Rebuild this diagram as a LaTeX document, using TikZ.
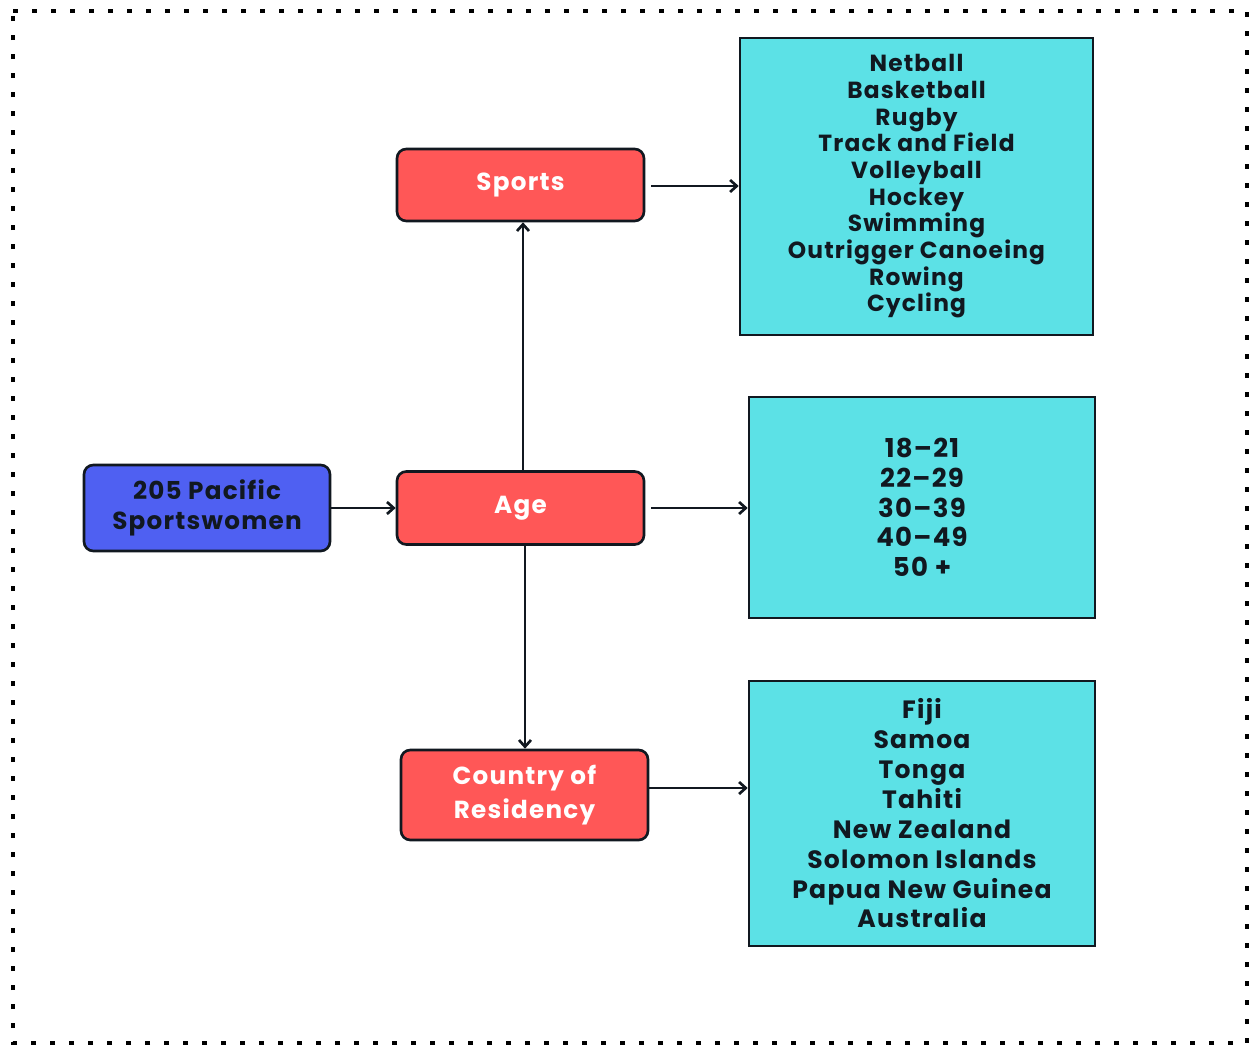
\documentclass[tikz,border=0pt]{standalone}
\usepackage{fontspec}
\setmainfont{Poppins}[LetterSpace=5]
\usetikzlibrary{arrows.meta}
\definecolor{redbox}{HTML}{FF5757}
\definecolor{bluebox}{HTML}{4F60F2}
\definecolor{cyanbox}{HTML}{5CE1E6}
\definecolor{ink}{HTML}{111820}
\begin{document}
\begin{tikzpicture}[x=0.75pt,y=-0.75pt,
  rbox/.style={draw=ink,line width=2pt,rounded corners=7pt,fill=redbox,text=white,
    font=\fontsize{18.5}{25.5}\selectfont\bfseries,align=center,inner sep=0pt},
  bbox/.style={draw=ink,line width=2pt,rounded corners=7pt,fill=bluebox,text=ink,
    font=\fontsize{18.5}{22.5}\selectfont\bfseries,align=center,inner sep=0pt},
  lbox/.style={draw=ink,line width=1.9pt,fill=cyanbox,text=ink,align=center,inner sep=0pt},
  arr/.style={draw=ink,line width=2.2pt,-{Straight Barb[length=5pt,width=9pt,line width=2pt]}}]
\useasboundingbox (0,0) rectangle (1250,1046);
% dotted frame
\draw[line width=3.4pt,dash pattern=on 3.4pt off 10.85pt] (13,11) -- (1247,11) -- (1247,1043) -- (13,1043) -- cycle;
% nodes
\node[bbox,minimum width=184.5pt,minimum height=64.5pt] (pac) at (207,508) {205 Pacific\\Sportswomen};
\node[rbox,minimum width=185.25pt,minimum height=54pt] (sports) at (520.5,185) {\raisebox{-1.5pt}{Sports}};
\node[rbox,minimum width=185.25pt,minimum height=54.75pt] (age) at (520.5,508) {\raisebox{-1.5pt}{Age}};
\node[rbox,minimum width=185.25pt,minimum height=67.5pt] (country) at (524.5,795) {Country of\\Residency};
\node[lbox,minimum width=264.75pt,minimum height=222.75pt,font=\fontsize{17.5}{20}\selectfont\bfseries] (slist) at (916.5,186.5)
  {Netball\\Basketball\\Rugby\\Track and Field\\Volleyball\\Hockey\\Swimming\\Outrigger Canoeing\\Rowing\\Cycling};
\node[lbox,minimum width=259.5pt,minimum height=165.75pt,font=\fontsize{19.5}{22.3}\selectfont\bfseries] (alist) at (922,507.5)
  {18–21\\22–29\\30–39\\40–49\\50 +};
\node[lbox,minimum width=259.5pt,minimum height=198.75pt,font=\fontsize{18.8}{22.4}\selectfont\bfseries] (clist) at (922,813.5)
  {Fiji\\Samoa\\Tonga\\Tahiti\\New Zealand\\Solomon Islands\\Papua New Guinea\\Australia};
% connectors
\draw[arr] (pac.east) -- (age.west |- pac.east);
\draw[arr] (age.north -| 523,0) -- (sports.south -| 523,0);
\draw[arr] (age.south -| 525,0) -- (country.north -| 525,0);
\draw[arr,shorten <=4.5pt] (sports.east |- 0,186) -- (slist.west |- 0,186);
\draw[arr,shorten <=4.5pt] (age.east |- 0,508) -- (alist.west |- 0,508);
\draw[arr] (country.east |- 0,788) -- (clist.west |- 0,788);
\end{tikzpicture}
\end{document}
